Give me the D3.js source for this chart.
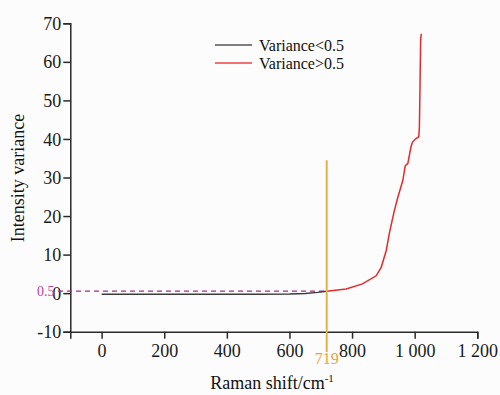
<!DOCTYPE html>
<html>
<head>
<meta charset="utf-8">
<script src="https://d3js.org/d3.v7.min.js"></script>
<style>
  body { margin: 0; background: #fcfcfc; }
</style>
</head>
<body>
<div id="chart"></div>
<script>
// data
const lowX = [0, 100, 200, 300, 400, 500, 600, 650, 690, 719];
const lowY = [-0.3, -0.3, -0.3, -0.3, -0.3, -0.28, -0.22, -0.1, 0.2, 0.5];
const highX = [719, 781, 833, 877, 893, 909, 919, 935, 946, 962, 970, 978, 988, 993, 1004, 1013, 1015, 1017, 1019, 1021];
const highY = [0.5, 1.1, 2.4, 4.5, 6.7, 11, 15.5, 21.4, 24.8, 29.2, 33.1, 33.6, 37.9, 39.2, 40.1, 40.5, 43, 53.5, 65.6, 67.3];
const xTicks = [0, 200, 400, 600, 800, 1000, 1200];
const yTicks = [-10, 0, 10, 20, 30, 40, 50, 60, 70];
const threshold = 0.5;
const cutX = 719;
const legendNames = ["Variance<0.5", "Variance>0.5"];
const colors = ["#3a3a3a", "#e8292b"];

const serif = "'Times New Roman', Times, 'Liberation Serif', 'Noto Serif', 'DejaVu Serif', serif";
const width = 500, height = 395;
const svg = d3.select("#chart").append("svg")
  .attr("width", width).attr("height", height)
  .attr("font-family", serif);

const x = d3.scaleLinear().domain([-100, 1200]).range([70.3, 477.3]);
const y = d3.scaleLinear().domain([-10, 70]).range([331.7, 23.3]);

// axes
const xAxis = svg.append("g").attr("transform", `translate(0,${y(-10)})`)
  .call(d3.axisBottom(x).tickValues(xTicks).tickSize(7).tickPadding(6)
    .tickFormat(d => d >= 1000 ? d3.format(",")(d).replace(",", " ") : d));
const yAxis = svg.append("g").attr("transform", `translate(${x(-100)},0)`)
  .call(d3.axisLeft(y).tickValues(yTicks).tickSize(7).tickPadding(2).tickFormat(d => d));

[xAxis, yAxis].forEach(g => {
  g.attr("font-family", serif).attr("font-size", 18);
  g.select(".domain").attr("stroke", "#2a2a2a").attr("stroke-width", 1.5);
  g.selectAll(".tick line").attr("stroke", "#2a2a2a").attr("stroke-width", 1.5);
  g.selectAll(".tick text").attr("fill", "#1a1a1a");
});
yAxis.selectAll(".tick text").attr("dy", "0.34em");
xAxis.selectAll(".tick text").attr("dy", "0.71em");

// threshold dashed line
svg.append("line")
  .attr("x1", 58).attr("x2", x(cutX))
  .attr("y1", y(threshold)).attr("y2", y(threshold))
  .attr("stroke", "#a8288c").attr("stroke-width", 1.2)
  .attr("stroke-dasharray", "5,4");
svg.append("text")
  .attr("x", 37).attr("y", y(threshold)).attr("dy", "0.35em")
  .attr("fill", "#c0409c").attr("font-size", 14)
  .text(threshold);

// series
const line = d3.line().x(d => x(d[0])).y(d => y(d[1]));
svg.append("path").datum(d3.zip(lowX, lowY))
  .attr("fill", "none").attr("stroke", colors[0]).attr("stroke-width", 1.5)
  .attr("d", line);
svg.append("path").datum(d3.zip(highX, highY))
  .attr("fill", "none").attr("stroke", colors[1]).attr("stroke-width", 1.5)
  .attr("d", line);

// cut marker
svg.append("line")
  .attr("x1", x(cutX)).attr("x2", x(cutX))
  .attr("y1", y(34.5)).attr("y2", 352)
  .attr("stroke", "#e8b04a").attr("stroke-width", 2);
svg.append("text")
  .attr("x", x(cutX)).attr("y", 364).attr("text-anchor", "middle")
  .attr("fill", "#e8a537").attr("font-size", 16)
  .text(cutX);

// legend
const leg = svg.append("g").attr("transform", "translate(215,45)");
legendNames.forEach((name, i) => {
  leg.append("line").attr("x1", 0).attr("x2", 37)
    .attr("y1", i * 18).attr("y2", i * 18)
    .attr("stroke", i === 0 ? "#555" : "#ee4444").attr("stroke-width", 1.5);
  leg.append("text").attr("x", 44).attr("y", i * 18).attr("dy", "0.35em")
    .attr("fill", "#111").attr("font-size", 16).text(name);
});

// axis titles
svg.append("text")
  .attr("transform", "translate(24,178) rotate(-90)")
  .attr("text-anchor", "middle").attr("fill", "#111").attr("font-size", 18)
  .text("Intensity variance");
const xt = svg.append("text")
  .attr("x", 272).attr("y", 389).attr("text-anchor", "middle")
  .attr("fill", "#111").attr("font-size", 18);
xt.append("tspan").text("Raman shift/cm");
xt.append("tspan").attr("dy", -7).attr("font-size", 11).text("-1");
</script>
</body>
</html>
